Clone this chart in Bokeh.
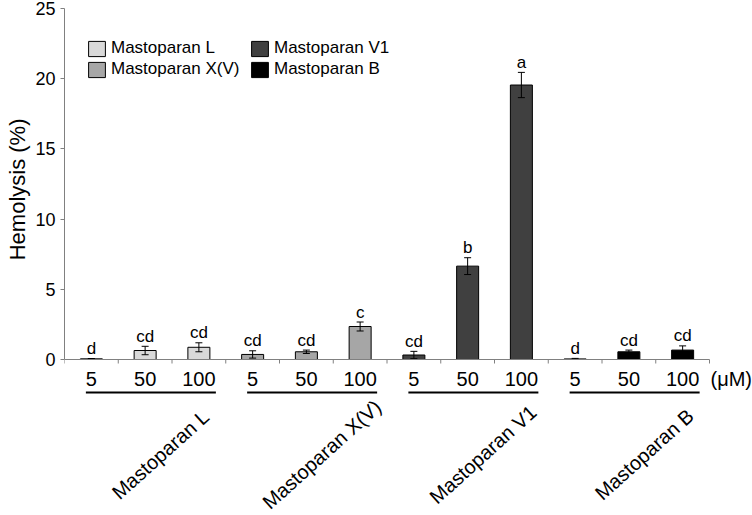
import math
from bokeh.plotting import figure
from bokeh.models import ColumnDataSource, FixedTicker, Legend, LegendItem, Title
from bokeh.core.properties import value
from bokeh.embed import file_html
from bokeh.resources import INLINE

# ---------------- data ----------------
peptides = ["Mastoparan L", "Mastoparan X(V)", "Mastoparan V1", "Mastoparan B"]
doses = ["5", "50", "100"]
unit_label = "(\u03bcM)"
y_title = "Hemolysis (%)"
y_ticks = [0, 5, 10, 15, 20, 25]

mean_L = [0.05, 0.64, 0.87]
mean_X = [0.36, 0.55, 2.35]
mean_V1 = [0.32, 6.65, 19.55]
mean_B = [0.04, 0.55, 0.67]

err_L = [0.02, 0.30, 0.32]
err_X = [0.26, 0.12, 0.32]
err_V1 = [0.26, 0.60, 0.90]
err_B = [0.04, 0.12, 0.30]

letters_L = ["d", "cd", "cd"]
letters_X = ["cd", "cd", "c"]
letters_V1 = ["cd", "b", "a"]
letters_B = ["d", "cd", "cd"]

colors = ["#d9d9d9", "#a6a6a6", "#404040", "#000000"]

means = [mean_L, mean_X, mean_V1, mean_B]
errs = [err_L, err_X, err_V1, err_B]
letters = [letters_L, letters_X, letters_V1, letters_B]

# ---------------- layout ----------------
W, H = 752, 515
BL, BT = 64, 8
FW, FH = W - BL, H - BT
Y0 = 359                  # pixel row of y = 0
PPU_Y = (Y0 - BT) / 25.0  # pixels per y unit
SLOT = 53.75              # pixels per category slot
y_min = -(H - Y0) / PPU_Y
x_max = FW / SLOT
n_slots = len(peptides) * len(doses)


def dx(px):
    return px / SLOT


def dy(px):
    return px / PPU_Y


FONT = "Liberation Sans"
AXIS_COLOR = "#808080"

p = figure(width=W, height=H, x_range=(0, x_max), y_range=(y_min, 25),
           output_backend="svg", toolbar_location=None,
           min_border_left=BL, min_border_top=BT, min_border_right=0,
           min_border_bottom=0)
p.xaxis.visible = False
p.xgrid.visible = False
p.ygrid.visible = False
p.outline_line_color = None
p.background_fill_color = "white"

yax = p.yaxis[0]
yax.ticker = FixedTicker(ticks=y_ticks)
yax.bounds = (0, 25)
yax.axis_line_color = AXIS_COLOR
yax.major_tick_line_color = AXIS_COLOR
yax.minor_tick_line_color = None
yax.major_tick_out = 4
yax.major_tick_in = 0
yax.major_label_text_font = FONT
yax.major_label_text_font_size = "18px"
yax.major_label_text_color = "black"
yax.major_label_standoff = 5

# y title placed on the left, anchored near the top of the frame
ttl = Title(text=y_title, align="right", offset=110, standoff=5,
            text_font=FONT, text_font_size="22px", text_font_style="normal",
            text_color="black")
p.add_layout(ttl, "left")

legend_items = []
bar_w = dx(22)
cap = dx(3.5)
for g, name in enumerate(peptides):
    xs = [g * len(doses) + i + 0.5 for i in range(len(doses))]
    m = means[g]
    e = errs[g]
    hi = [a + b for a, b in zip(m, e)]
    src = ColumnDataSource(dict(
        x=xs, top=m, lo=[a - b for a, b in zip(m, e)], hi=hi,
        lab_y=[h + dy(10) for h in hi],
        xl=[x - cap for x in xs], xr=[x + cap for x in xs],
        lab=letters[g], dose=doses))
    r = p.vbar(x="x", top="top", bottom=0, width=bar_w, source=src,
               fill_color=colors[g], line_color="black", line_width=1)
    legend_items.append(LegendItem(label=name, renderers=[r]))
    p.segment(x0="x", x1="x", y0="lo", y1="hi", source=src,
              line_color="black", line_width=1)
    p.segment(x0="xl", x1="xr", y0="hi", y1="hi", source=src,
              line_color="black", line_width=1)
    p.segment(x0="xl", x1="xr", y0="lo", y1="lo", source=src,
              line_color="black", line_width=1)
    p.text(x="x", y="lab_y", text="lab", source=src,
           text_align="center", text_baseline="middle",
           text_font=value(FONT), text_font_size="17px", text_color="black")
    # dose labels
    p.text(x="x", y=-dy(378.5 - Y0), text="dose", source=src,
           text_align="center", text_baseline="middle",
           text_font=value(FONT), text_font_size="20px", text_color="black")
    # group underline
    p.segment(x0=g * 3 + 0.5 - dx(5.5), x1=g * 3 + 2.5 + dx(17),
              y0=-dy(33), y1=-dy(33), line_color="black", line_width=2)
    # rotated group label
    p.text(x=g * 3 + dx(96), y=-dy(454 - Y0), text=[name], angle=math.radians(42),
           text_align="center", text_baseline="middle",
           text_font=value(FONT), text_font_size="20px", text_color="black")

# x axis line and ticks
p.segment(x0=0, x1=n_slots, y0=0, y1=0, line_color=AXIS_COLOR, line_width=1)
tick_src = ColumnDataSource(dict(x=list(range(n_slots + 1))))
p.segment(x0="x", x1="x", y0=0, y1=-dy(4), source=tick_src,
          line_color=AXIS_COLOR, line_width=1)
p.text(x=n_slots + dx(1), y=-dy(378.5 - Y0), text=[unit_label],
       text_align="left", text_baseline="middle",
       text_font=value(FONT), text_font_size="20px", text_color="black")

legend = Legend(items=legend_items, location=(22, H - BT - 79 + BT), orientation="vertical",
                nrows=2, margin=0, padding=0, spacing=1,
                glyph_width=21, glyph_height=19, label_height=19,
                label_width=137, label_standoff=4,
                label_text_font=FONT, label_text_font_size="17px",
                label_text_color="black",
                border_line_color=None, background_fill_alpha=0)
p.add_layout(legend)

open("out.html", "w").write(file_html(p, INLINE))
